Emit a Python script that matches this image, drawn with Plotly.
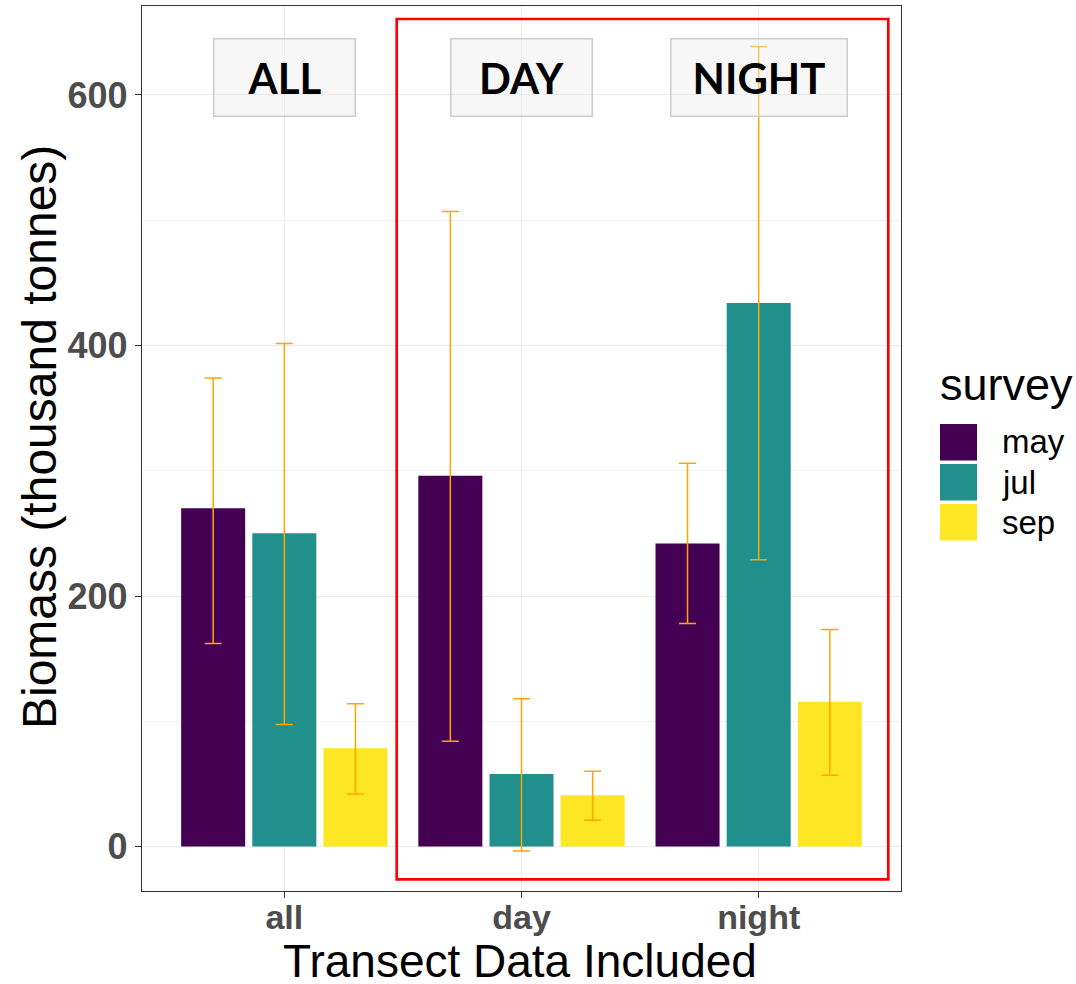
import plotly.graph_objects as go

categories = ["all", "day", "night"]
surveys = ["may", "jul", "sep"]
colors = ["#440154", "#21908C", "#FDE725"]

may_vals = [270, 296, 242]
may_low = [162, 84, 178]
may_high = [374, 507, 306]

jul_vals = [250, 58, 434]
jul_low = [97.5, -3.6, 229]
jul_high = [401.6, 118, 638.6]

sep_vals = [78.4, 41, 115.6]
sep_low = [42, 21, 57]
sep_high = [114, 60, 173.3]

panel_labels = ["ALL", "DAY", "NIGHT"]

series = [
    (may_vals, may_low, may_high),
    (jul_vals, jul_low, jul_high),
    (sep_vals, sep_low, sep_high),
]

fig = go.Figure()
for name, col, (v, lo, hi) in zip(surveys, colors, series):
    fig.add_trace(go.Bar(
        x=categories, y=v, name=name, marker=dict(color=col, line=dict(width=0)),
        error_y=dict(type="data", symmetric=False,
                     array=[h - a for h, a in zip(hi, v)],
                     arrayminus=[a - l for a, l in zip(v, lo)],
                     color="#FFA500", thickness=1.5, width=8.5),
        showlegend=False,
    ))

# plot area geometry (pixels)
L, R, T, B = 142, 175, 6, 93
W = 1076 - L - R
H = 984 - T - B


def px(xp):
    return (xp - L) / W


def py(yp):
    return (984 - B - yp) / H


annotations = []
shapes = []

# panel labels boxes
box_w = [140, 140, 175]
for cat, lab, bw in zip(categories, panel_labels, box_w):
    annotations.append(dict(
        x=cat, xref="x", y=py(77.5), yref="paper", text="<b>" + lab + "</b>",
        showarrow=False, xanchor="center", yanchor="middle",
        width=bw, height=76, borderpad=0, bgcolor="rgba(238,238,238,0.45)",
        bordercolor="#cccccc", borderwidth=1.5,
        font=dict(family="Lato", size=42, color="black"),
    ))

# axis titles
annotations.append(dict(x=px(520), xref="paper", y=py(961), yref="paper",
                        text="Transect Data Included", showarrow=False,
                        xanchor="center", yanchor="middle",
                        font=dict(family="Liberation Sans", size=46, color="black")))
annotations.append(dict(x=px(39), xref="paper", y=py(437), yref="paper",
                        text="Biomass (thousand tonnes)", showarrow=False, textangle=-90,
                        xanchor="center", yanchor="middle",
                        font=dict(family="Liberation Sans", size=48, color="black")))

# red highlight box
shapes.append(dict(type="rect", xref="paper", yref="paper",
                   x0=px(396.7), x1=px(888.3), y0=py(879.3), y1=py(19),
                   line=dict(color="#ff0000", width=2.7), layer="above"))

# custom legend
annotations.append(dict(x=px(938), xref="paper", y=py(384), yref="paper",
                        text="survey", showarrow=False, xanchor="left", yanchor="middle",
                        font=dict(family="Liberation Sans", size=45, color="black")))
sw_top = [424, 464, 504]
for name, col, t in zip(surveys, colors, sw_top):
    shapes.append(dict(type="rect", xref="paper", yref="paper",
                       x0=px(940), x1=px(977), y0=py(t + 36.5), y1=py(t),
                       fillcolor=col, line=dict(width=0), layer="above"))
    annotations.append(dict(x=px(1000), xref="paper", y=py(t + 18), yref="paper",
                            text=name, showarrow=False, xanchor="left", yanchor="middle",
                            font=dict(family="Liberation Sans", size=33, color="black")))

fig.update_layout(
    width=1076, height=984,
    margin=dict(l=L, r=R, t=T, b=B, autoexpand=False),
    paper_bgcolor="white", plot_bgcolor="white",
    barmode="group", bargap=0.1, bargroupgap=0.1,
    annotations=annotations, shapes=shapes,
    showlegend=False,
    font=dict(family="Liberation Sans"),
)

fig.update_xaxes(
    type="category", categoryorder="array", categoryarray=categories,
    range=[-0.6, 2.6],
    showgrid=True, gridcolor="#ebebeb", gridwidth=1.2,
    showline=True, mirror=True, linecolor="#333333", linewidth=1.3,
    ticks="outside", ticklen=6, tickcolor="#333333", tickwidth=1.2,
    ticklabelstandoff=-10,
    tickfont=dict(family="Liberation Sans", size=34, color="#4d4d4d", weight="bold"),
    automargin=False,
)
fig.update_yaxes(
    range=[-35.5, 671], tickvals=[0, 200, 400, 600],
    showgrid=True, gridcolor="#ebebeb", gridwidth=1.2, zeroline=False,
    minor=dict(tickvals=[100, 300, 500], showgrid=True, gridcolor="#f2f2f2", gridwidth=0.8, ticks=""),
    showline=True, mirror=True, linecolor="#333333", linewidth=1.3,
    ticks="outside", ticklen=6, tickcolor="#333333", tickwidth=1.2,
    tickfont=dict(family="Liberation Sans", size=36, color="#4d4d4d", weight="bold"),
    automargin=False,
)

fig.write_html("out.html")
